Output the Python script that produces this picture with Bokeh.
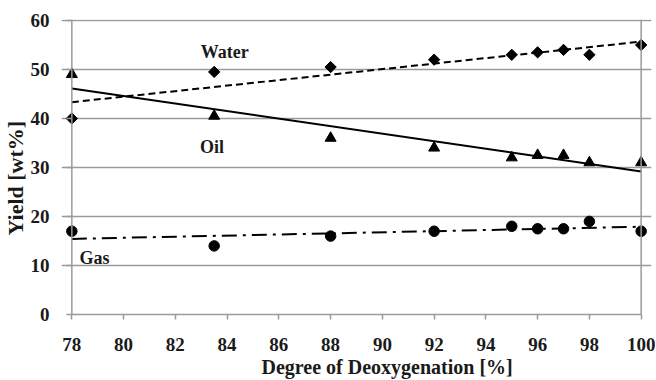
import numpy as np
from bokeh.plotting import figure
from bokeh.models import Range1d, FixedTicker, ColumnDataSource, Label, Span, Title
from bokeh.embed import file_html
from bokeh.resources import INLINE

# Data
deox = [78, 83.5, 88, 92, 95, 96, 97, 98, 100]
water = [40, 49.5, 50.5, 52, 53, 53.5, 54, 53, 55]
oil = [49, 40.5, 36, 34, 32, 32.5, 32.5, 31, 31]
gas = [17, 14, 16, 17, 18, 17.5, 17.5, 19, 17]
x_ticks = [78, 80, 82, 84, 86, 88, 90, 92, 94, 96, 98, 100]
y_ticks = [0, 10, 20, 30, 40, 50, 60]

FONT = "Liberation Serif"
GRID = "#9a9a9a"
INK = "#1a1a1a"

p = figure(width=656, height=380, output_backend="svg", toolbar_location=None,
           x_range=Range1d(77.6, 100.4), y_range=Range1d(0, 60.2),
           min_border_left=60, min_border_right=5, min_border_top=19, min_border_bottom=66)

p.background_fill_color = "white"
p.border_fill_color = "white"
p.outline_line_color = None

p.xgrid.visible = False
p.ygrid.ticker = FixedTicker(ticks=y_ticks)
p.ygrid.grid_line_color = GRID
p.ygrid.grid_line_width = 1.5
p.ygrid.bounds = (78, 100)

for ax in (p.xaxis[0], p.yaxis[0]):
    ax.axis_line_color = GRID
    ax.axis_line_width = 1.5
    ax.major_tick_line_color = GRID
    ax.major_tick_line_width = 1.5
    ax.major_tick_out = 5
    ax.major_tick_in = 0
    ax.minor_tick_line_color = None
    ax.major_label_text_font = FONT
    ax.major_label_text_font_style = "bold"
    ax.major_label_text_font_size = "19px"
    ax.major_label_text_color = INK

p.xaxis.ticker = FixedTicker(ticks=x_ticks)
p.yaxis.ticker = FixedTicker(ticks=y_ticks)
p.xaxis.bounds = (78, 100)
p.xaxis.major_label_standoff = 18

# y axis sits at the frame edge; its line is drawn at x=78 by a Span,
# and its ticks are shifted so they end on that line
p.yaxis.axis_line_color = None
p.yaxis.major_tick_in = 10
p.yaxis.major_tick_out = -5
p.yaxis.major_label_standoff = 12

for loc in (78, 100):
    p.add_layout(Span(location=loc, dimension="height", line_color=GRID, line_width=1.5))

# axis titles (placed as in the reference, off-centre)
p.add_layout(Title(text="Degree of Deoxygenation [%]", text_font=FONT, text_font_style="bold",
                   text_font_size="20px", text_color=INK, align="left", offset=200,
                   standoff=0), "below")
p.add_layout(Title(text="Yield [wt%]", text_font=FONT, text_font_style="bold",
                   text_font_size="22px", text_color=INK, align="left", offset=79,
                   standoff=0), "left")

# Linear trendlines
xs = np.array([78, 100], dtype=float)
for ys, dash in ((water, "7 4"), (oil, "solid"), (gas, "15 6 3 6")):
    k, b = np.polyfit(deox, ys, 1)
    p.line(xs, k * xs + b, line_color="black", line_width=2, line_dash=dash)

src = ColumnDataSource(dict(x=deox, water=water, oil=oil, gas=gas))
p.scatter("x", "water", source=src, marker="square", size=8, angle=np.pi / 4, color="black")
p.scatter("x", "oil", source=src, marker="triangle", size=11, color="black")
p.scatter("x", "gas", source=src, marker="circle", size=10.5, color="black")

for txt, x, y in (("Water", 82.98, 53.5), ("Oil", 82.95, 34.1), ("Gas", 78.3, 11.5)):
    p.add_layout(Label(x=x, y=y, text=txt, text_font=FONT, text_font_style="bold",
                       text_font_size="18px", text_color=INK, text_baseline="middle"))

open("out.html", "w").write(file_html(p, INLINE))
